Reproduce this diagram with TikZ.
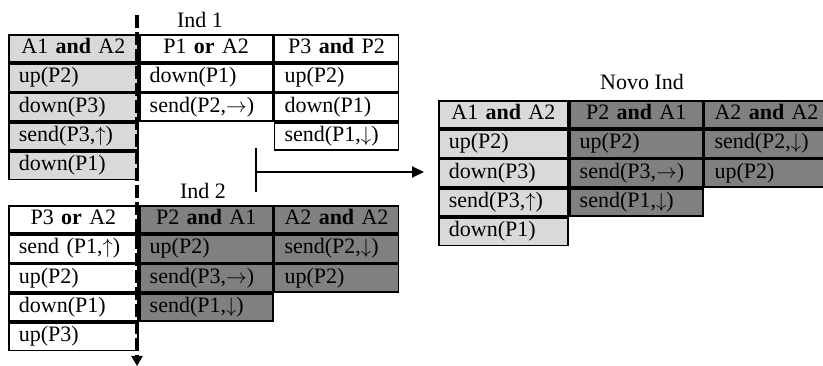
\documentclass[tikz,border=0pt]{standalone}
\usepackage{fontspec}
\setmainfont{Liberation Serif}
\usepackage{xcolor}
\definecolor{cLight}{HTML}{D9D9D9}
\definecolor{cDark}{HTML}{808080}
\usepackage{tikz}
\usetikzlibrary{positioning,arrows.meta}
\tikzset{
  cell/.style={draw=black,line width=1.8pt,minimum height=27.5pt,
    inner xsep=10pt,inner ysep=0pt,text height=15pt,text depth=5pt,
    align=left,font=\fontsize{22}{26}\selectfont},
  cell-head/.style={cell,align=center},
  col-a/.style={text width=109pt},
  col-b/.style={text width=113pt},
  col-c/.style={text width=104pt},
  cell-light/.style={fill=cLight},
  cell-dark/.style={fill=cDark},
  title/.style={font=\fontsize{22}{26}\selectfont,inner sep=0pt},
  arrow/.style={-{Triangle[length=12pt,width=11pt]},line width=1.8pt},
  timeline/.style={-{Triangle[length=10pt,width=11pt]},line width=3.5pt,
    dash pattern=on 13pt off 4pt},
}

\begin{document}
\begin{tikzpicture}[x=1pt,y=-1pt,node distance=0pt]
  \useasboundingbox (0,0) rectangle (823,366);
  % Ind 1
  \node[cell-head,col-a,cell-light,anchor=north west] (i1-a0) at (8,34) {A1 \textbf{and} A2};
  \node[cell,col-a,cell-light,below=of i1-a0] (i1-a1) {up(P2)};
  \node[cell,col-a,cell-light,below=of i1-a1] (i1-a2) {down(P3)};
  \node[cell,col-a,cell-light,below=of i1-a2] (i1-a3) {send(P3,$\uparrow$)};
  \node[cell,col-a,cell-light,below=of i1-a3] (i1-a4) {down(P1)};
  \node[cell-head,col-b,right=of i1-a0] (i1-b0) {P1 \textbf{or} A2};
  \node[cell,col-b,below=of i1-b0] (i1-b1) {down(P1)};
  \node[cell,col-b,below=of i1-b1] (i1-b2) {send(P2,$\rightarrow$)};
  \node[cell-head,col-c,right=of i1-b0] (i1-c0) {P3 \textbf{and} P2};
  \node[cell,col-c,below=of i1-c0] (i1-c1) {up(P2)};
  \node[cell,col-c,below=of i1-c1] (i1-c2) {down(P1)};
  \node[cell,col-c,below=of i1-c2] (i1-c3) {send(P1,$\downarrow$)};
  \node[title] (ind1) at (200,20) {Ind 1};
  % Ind 2
  \node[cell-head,col-a,anchor=north west] (i2-a0) at (8,205) {P3 \textbf{or} A2};
  \node[cell,col-a,below=of i2-a0] (i2-a1) {send (P1,$\uparrow$)};
  \node[cell,col-a,below=of i2-a1] (i2-a2) {up(P2)};
  \node[cell,col-a,below=of i2-a2] (i2-a3) {down(P1)};
  \node[cell,col-a,below=of i2-a3] (i2-a4) {up(P3)};
  \node[cell-head,col-b,cell-dark,right=of i2-a0] (i2-b0) {P2 \textbf{and} A1};
  \node[cell,col-b,cell-dark,below=of i2-b0] (i2-b1) {up(P2)};
  \node[cell,col-b,cell-dark,below=of i2-b1] (i2-b2) {send(P3,$\rightarrow$)};
  \node[cell,col-b,cell-dark,below=of i2-b2] (i2-b3) {send(P1,$\downarrow$)};
  \node[cell-head,col-c,cell-dark,right=of i2-b0] (i2-c0) {A2 \textbf{and} A2};
  \node[cell,col-c,cell-dark,below=of i2-c0] (i2-c1) {send(P2,$\downarrow$)};
  \node[cell,col-c,cell-dark,below=of i2-c1] (i2-c2) {up(P2)};
  \node[title] (ind2) at (203,191) {Ind 2};
  % Novo Ind
  \node[cell-head,col-a,cell-light,anchor=north west] (nv-a0) at (438,100) {A1 \textbf{and} A2};
  \node[cell,col-a,cell-light,below=of nv-a0] (nv-a1) {up(P2)};
  \node[cell,col-a,cell-light,below=of nv-a1] (nv-a2) {down(P3)};
  \node[cell,col-a,cell-light,below=of nv-a2] (nv-a3) {send(P3,$\uparrow$)};
  \node[cell,col-a,cell-light,below=of nv-a3] (nv-a4) {down(P1)};
  \node[cell-head,col-b,cell-dark,right=of nv-a0] (nv-b0) {P2 \textbf{and} A1};
  \node[cell,col-b,cell-dark,below=of nv-b0] (nv-b1) {up(P2)};
  \node[cell,col-b,cell-dark,below=of nv-b1] (nv-b2) {send(P3,$\rightarrow$)};
  \node[cell,col-b,cell-dark,below=of nv-b2] (nv-b3) {send(P1,$\downarrow$)};
  \node[cell-head,col-c,cell-dark,right=of nv-b0] (nv-c0) {A2 \textbf{and} A2};
  \node[cell,col-c,cell-dark,below=of nv-c0] (nv-c1) {send(P2,$\downarrow$)};
  \node[cell,col-c,cell-dark,below=of nv-c1] (nv-c2) {up(P2)};
  \node[title] (novo) at (642,82) {Novo Ind};
  % crossover line and result arrow
  \coordinate (cut-top) at (137,15);
  \coordinate (cut-end) at (137,366);
  \draw[timeline] (cut-top) -- (cut-end);
  \coordinate (bar-top) at (256,148);
  \coordinate (bar-mid) at (256,172);
  \coordinate (bar-bot) at (256,192);
  \draw[line width=1.5pt] (bar-top) -- (bar-bot);
  \draw[arrow] (bar-mid) -- ([xshift=-14pt]bar-mid -| nv-a2.west);
\end{tikzpicture}
\end{document}
